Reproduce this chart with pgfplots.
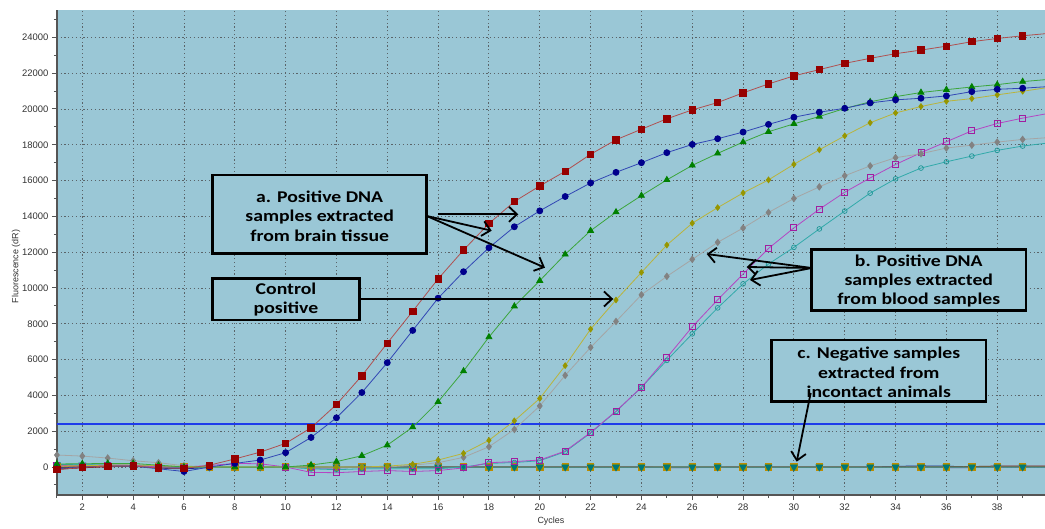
\documentclass[border=0pt]{standalone}
\usepackage{pgfplots}
\pgfplotsset{compat=1.18}
\usepackage{pgfplotstable}
\usepackage{fontspec}
\setmainfont{Liberation Sans}
\newfontfamily\boxfont[FakeStretch=1.2]{Carlito}
\usetikzlibrary{arrows.meta}
\definecolor{bg}{RGB}{154,199,214}
\definecolor{axisgrey}{RGB}{85,85,85}
\definecolor{gridgrey}{RGB}{90,100,105}
\definecolor{labgrey}{RGB}{50,50,50}
\definecolor{redm}{RGB}{150,0,0}
\definecolor{redl}{RGB}{176,80,80}
\definecolor{bluem}{RGB}{0,0,140}
\definecolor{bluel}{RGB}{50,70,180}
\definecolor{greenm}{RGB}{0,128,0}
\definecolor{greenl}{RGB}{60,165,60}
\definecolor{olivem}{RGB}{150,150,0}
\definecolor{olivel}{RGB}{185,180,60}
\definecolor{greym}{RGB}{130,130,130}
\definecolor{greyl}{RGB}{165,165,165}
\definecolor{magm}{RGB}{160,30,160}
\definecolor{magl}{RGB}{180,70,195}
\definecolor{tealm}{RGB}{30,150,150}
\definecolor{teall}{RGB}{50,170,170}
\definecolor{negt}{RGB}{0,120,120}
\definecolor{nego}{RGB}{190,140,0}
\definecolor{negn}{RGB}{20,40,140}
\definecolor{negp}{RGB}{120,40,150}
\definecolor{negr}{RGB}{120,20,20}
\definecolor{thr}{RGB}{30,60,235}

\pgfplotstableread{
c red blue green olive grey mag teal n1 n2 n3 n4 n5
1 -150 -100 170 50 670 100 150 130 0 -50 50 -120
2 -20 0 180 80 610 50 120 120 20 30 80 -40
3 50 50 200 100 500 100 100 100 40 60 100 20
4 60 50 200 120 350 100 80 80 60 60 80 50
5 -50 -100 100 80 240 0 0 0 40 -60 0 0
6 -80 -250 0 30 70 0 0 0 20 -100 -50 -30
7 100 0 0 0 0 80 0 0 0 -20 0 0
8 450 200 0 0 20 200 0 0 0 0 0 0
9 830 390 0 0 20 180 0 0 0 0 0 0
10 1320 800 0 0 0 0 0 0 0 0 0 0
11 2190 1650 110 0 0 -300 -100 0 0 0 -50 0
12 3490 2750 300 0 0 -320 -150 0 0 -20 -50 0
13 5100 4160 630 0 0 -250 -100 0 0 0 0 0
14 6920 5830 1220 50 0 -200 -100 0 0 0 0 0
15 8700 7630 2230 150 100 -250 -100 0 0 0 0 0
16 10510 9430 3640 390 240 -200 -100 0 0 0 0 0
17 12120 10910 5360 760 540 -50 0 0 0 0 0 0
18 13600 12250 7260 1490 1130 240 200 0 0 0 0 0
19 14830 13420 8980 2580 2100 300 250 0 0 0 0 0
20 15700 14310 10410 3830 3410 390 350 0 0 0 0 0
21 16520 15110 11880 5660 5120 890 850 0 0 0 0 0
22 17470 15870 13200 7700 6680 1930 1900 0 0 0 0 0
23 18280 16460 14240 9330 8130 3120 3100 0 0 0 0 0
24 18870 17000 15160 10870 9620 4450 4450 0 0 0 0 0
25 19450 17560 16040 12400 10650 6110 5960 0 0 0 -30 0
26 19950 18020 16850 13620 11600 7830 7440 0 0 0 -30 0
27 20360 18340 17520 14490 12550 9340 8890 0 0 0 -20 0
28 20900 18710 18150 15310 13350 10780 10230 0 0 0 0 0
29 21400 19140 18730 16040 14220 12210 11340 0 0 0 0 0
30 21850 19540 19170 16910 15000 13360 12270 0 0 0 0 0
31 22200 19820 19580 17720 15650 14400 13300 0 0 0 0 0
32 22550 20040 20030 18500 16270 15350 14300 0 0 0 0 0
33 22830 20340 20400 19230 16820 16150 15300 0 0 0 0 0
34 23090 20510 20690 19780 17280 16900 16100 0 0 30 0 0
35 23290 20600 20920 20140 17500 17560 16700 0 0 60 0 0
36 23510 20730 21080 20430 17820 18170 17050 0 0 40 -30 0
37 23760 20970 21230 20580 17980 18780 17370 0 0 0 -30 20
38 23940 21100 21360 20790 18150 19190 17690 0 0 0 0 50
39 24090 21160 21530 20990 18300 19490 17930 0 0 0 0 50
40 24220 21250 21650 21200 18400 19750 18100 0 0 0 0 50
}\data

\begin{document}
\begin{tikzpicture}
\useasboundingbox (-56.9bp,-34bp) rectangle (988.1bp,495bp);
\begin{axis}[
  scale only axis, width=988.1bp, height=485bp,
  xmin=1, xmax=39.88, ymin=-1564, ymax=25530,
  axis x line=bottom, axis y line=left,
  axis line style={-, draw=axisgrey, line width=1.5bp},
  every outer x axis line/.append style={-},
  every outer y axis line/.append style={-},
  axis background/.style={fill=bg},
  xtick={2,4,...,40}, minor xtick={1,3,...,39},
  ytick={0,2000,...,24000}, minor ytick={-1000,1000,...,25000},
  tick align=outside, major tick length=5bp, minor tick length=3bp,
  tick style={draw=axisgrey, line width=1bp},
  grid=major,
  major grid style={draw=gridgrey, line width=0.9bp, dash pattern=on 1.2bp off 2.6bp},
  minor grid style={draw=none},
  scaled y ticks=false,
  yticklabel style={/pgf/number format/.cd, fixed, set thousands separator={}},
  /pgf/number format/assume math mode=true,
  ticklabel style={font=\fontsize{9.5}{11}\selectfont, text=labgrey},
  xlabel={Cycles}, ylabel={Fluorescence (dR)},
  label style={font=\fontsize{9}{11}\selectfont, text=labgrey},
  xlabel style={yshift=0bp},
  ylabel style={yshift=-5bp, xshift=-14bp},
  clip=true,
]
% negative samples
\addplot[draw=negn, line width=1bp, mark=none] table[x=c,y=n3]{\data};
\addplot[draw=negp, line width=1bp, mark=none] table[x=c,y=n4]{\data};
\addplot[draw=negr, line width=1bp, mark=none] table[x=c,y=n5]{\data};
\addplot[draw=nego, line width=0.8bp, mark=square*, mark size=3.2bp, mark options={draw=nego, fill=olivem}] table[x=c,y=n2]{\data};
\addplot[draw=teall, line width=1bp, mark=triangle*, mark size=3.6bp, mark options={rotate=180, draw=negt, fill=negt}] table[x=c,y=n1]{\data};
% threshold
\addplot[draw=thr, line width=2.2bp] coordinates {(0,2400) (41,2400)};
% blood samples
\addplot[draw=teall, line width=0.8bp, mark=o, mark size=2.4bp, mark options={draw=tealm, line width=0.7bp}] table[x=c,y=teal]{\data};
\addplot[draw=magl, line width=0.8bp, mark=square, mark size=3bp, mark options={draw=magm, line width=0.9bp}] table[x=c,y=mag]{\data};
\addplot[draw=greyl, line width=0.8bp, mark=diamond*, mark size=3.2bp, mark options={draw=greym, fill=greym}] table[x=c,y=grey]{\data};
% control positive
\addplot[draw=olivel, line width=0.8bp, mark=diamond*, mark size=2.8bp, mark options={draw=olivem, fill=olivem}] table[x=c,y=olive]{\data};
% brain tissue
\addplot[draw=greenl, line width=0.8bp, mark=triangle*, mark size=3.4bp, mark options={draw=greenm, fill=greenm}] table[x=c,y=green]{\data};
\addplot[draw=bluel, line width=0.8bp, mark=*, mark size=3bp, mark options={draw=bluem, fill=bluem}] table[x=c,y=blue]{\data};
\addplot[draw=redl, line width=0.8bp, mark=square*, mark size=3.2bp, mark options={draw=redm, fill=redm}] table[x=c,y=red]{\data};
\end{axis}
\begin{scope}[x=1bp, y=-1bp, xshift=-56.9bp, yshift=495bp,
  arr/.style={line width=1.8bp, -{Straight Barb[length=8bp,width=15bp,line width=1.8bp]}},
  box/.style={draw=black, line width=2.6bp, fill=bg},
  txt/.style={font=\boxfont\bfseries\fontsize{16.5}{19.5}\selectfont, align=center, inner sep=0pt}]
\draw[box] (212.7,175) rectangle (426.7,253.3);
\node[txt] at (319.7,216) {a. Positive DNA\\samples extracted\\from brain tissue};
\draw[box] (212.7,278.3) rectangle (359.3,320);
\node[txt] at (286,299.5) {Control\\positive};
\draw[box] (811.7,249.3) rectangle (1026,310.7);
\node[txt] at (918.8,281) {b. Positive DNA\\samples extracted\\from blood samples};
\draw[box] (771.7,340) rectangle (986,401.7);
\node[txt] at (878.8,372.5) {c. Negative samples\\extracted from\\incontact animals};
\draw[arr] (438.3,214.3) -- (518.3,214.3);
\draw[arr] (426.7,216) -- (491.7,230.7);
\draw[arr] (426.7,216) -- (545,267.7);
\draw[arr] (359.3,299) -- (613.3,299);
\draw[arr] (811.7,268) -- (706.7,254);
\draw[arr] (811.7,268) -- (746.7,267);
\draw[arr] (811.7,268) -- (750,280);
\draw[arr] (810.7,393) -- (796.7,461.7);
\end{scope}
\end{tikzpicture}
\end{document}
